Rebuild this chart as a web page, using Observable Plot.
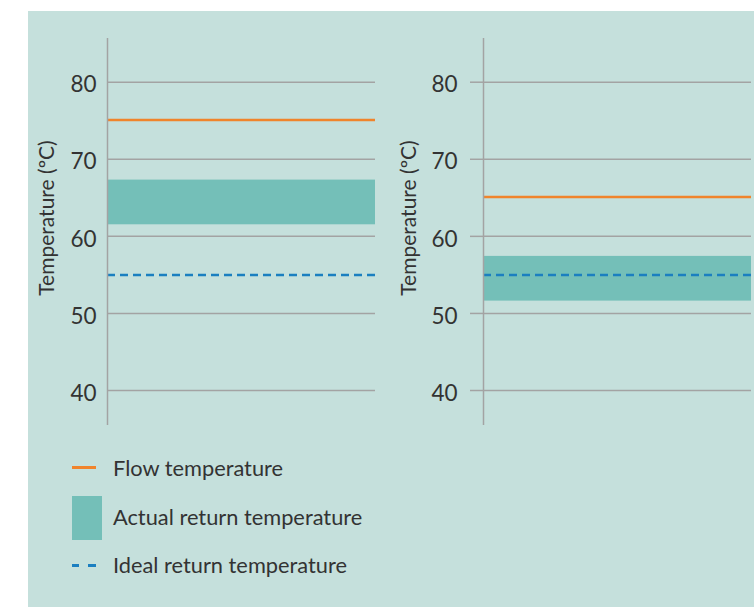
<!DOCTYPE html>
<html><head><meta charset="utf-8">
<script src="https://cdn.jsdelivr.net/npm/d3@7"></script>
<script src="https://cdn.jsdelivr.net/npm/@observablehq/plot@0.6"></script>
<style>
body{margin:0;background:#fff;width:754px;height:607px;overflow:hidden;position:relative;font-family:Lato,sans-serif;}
#panel{position:absolute;left:28px;top:11px;width:726px;height:596px;background:#c5e0dc;}
.chart{position:absolute;top:11px;}
.chart svg{overflow:visible;max-width:none;}
.lg{position:absolute;left:113px;font-size:21.8px;line-height:26px;color:#333;white-space:nowrap;}
.sw{position:absolute;}
</style></head>
<body>
<div id="panel"></div>
<div id="c0" class="chart" style="left:28px"></div>
<div id="c1" class="chart" style="left:390px"></div>
<div id="legend"></div>
<script>
// Data
const panels = ["Case A", "Case B"];
const flowTemp = [75.1, 65.1];
const actualLow = [61.5, 51.6];
const actualHigh = [67.3, 57.4];
const idealTemp = [55, 55];
const yTicks = [40, 50, 60, 70, 80];
const yLabel = "Temperature (ºC)";
const legendLabels = ["Flow temperature", "Actual return temperature", "Ideal return temperature"];

const ORANGE = "#f0842c", TEAL = "#74bfb8", BLUE = "#1b7fc0", GRID = "#a3a3a3", TXT = "#333";

const layout = [
  {width: 347, marginLeft: 79, marginRight: 0, tickSize: 0, tickPadding: 11, labelDx: -60},
  {width: 364, marginLeft: 93, marginRight: 3, tickSize: 13, tickPadding: 13, labelDx: -74}
];

panels.forEach((p, i) => {
  const L = layout[i];
  const chart = Plot.plot({
    width: L.width, height: 419,
    marginTop: 27, marginBottom: 5, marginLeft: L.marginLeft, marginRight: L.marginRight,
    style: {background: "transparent", fontFamily: "Lato, sans-serif", fontSize: "22px", color: TXT, overflow: "visible"},
    x: {domain: [0, 1], axis: null},
    y: {domain: [35.46, 85.67], axis: null},
    marks: [
      Plot.gridY(yTicks, {stroke: GRID, strokeOpacity: 1, strokeWidth: 1.5}),
      Plot.axisY(yTicks, {tickSize: L.tickSize, stroke: GRID, strokeWidth: 1.5, strokeOpacity: 1, label: null, tickFormat: () => ""}),
      Plot.axisY(yTicks, {tickSize: 0, tickPadding: L.tickSize + L.tickPadding, label: null, fill: TXT, fontSize: 22.5, dy: 3}),
      Plot.rectY([{lo: actualLow[i], hi: actualHigh[i]}], {x1: 0, x2: 1, y1: "lo", y2: "hi", fill: TEAL}),
      Plot.ruleY([flowTemp[i]], {stroke: ORANGE, strokeWidth: 2.5}),
      Plot.ruleY([idealTemp[i]], {stroke: BLUE, strokeWidth: 2.5, strokeDasharray: "8,5"}),
      Plot.ruleX([0], {stroke: GRID, strokeWidth: 1.5}),
      Plot.text([yLabel], {frameAnchor: "left", textAnchor: "middle", dx: L.labelDx, dy: -14, rotate: -90, fontSize: 21, fill: TXT})
    ]
  });
  document.getElementById("c" + i).appendChild(chart);
});

// Legend
const lg = document.getElementById("legend");
const centers = [468, 517, 565];
legendLabels.forEach((t, i) => {
  const d = document.createElement("div");
  d.className = "lg";
  d.style.top = (centers[i] - 13) + "px";
  d.textContent = t;
  lg.appendChild(d);
});
function sw(css) { const d = document.createElement("div"); d.className = "sw"; d.style.cssText = css; lg.appendChild(d); }
sw(`left:72px;top:466px;width:24px;height:2.5px;background:${ORANGE}`);
sw(`left:72px;top:496px;width:30px;height:44px;background:${TEAL}`);
sw(`left:72px;top:564px;width:7px;height:2.5px;background:${BLUE}`);
sw(`left:88px;top:564px;width:8px;height:2.5px;background:${BLUE}`);
</script>
</body></html>
